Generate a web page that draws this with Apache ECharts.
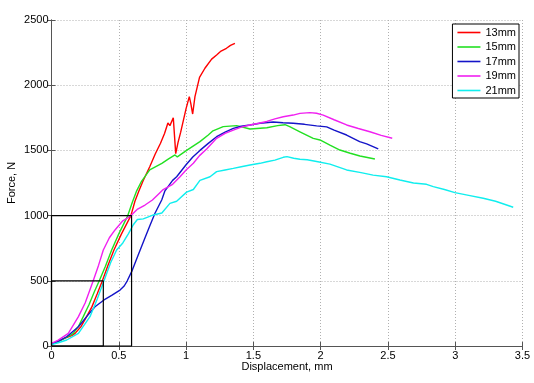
<!DOCTYPE html>
<html>
<head>
<meta charset="utf-8">
<script src="https://cdn.jsdelivr.net/npm/echarts@6/dist/echarts.min.js"></script>
<style>
html,body{margin:0;padding:0;background:#fff;}
#chart{width:534px;height:383px;}
</style>
</head>
<body>
<div id="chart"></div>
<script>
// Displacement (mm), Force (N) pairs
const seriesNames = ['13mm', '15mm', '17mm', '19mm', '21mm'];
const xTicks = [0, 0.5, 1, 1.5, 2, 2.5, 3, 3.5];
const yTicks = [0, 500, 1000, 1500, 2000, 2500];

const d13 = [[0,15],[0.05,35],[0.1,60],[0.15,80],[0.175,97],[0.22,150],[0.261,225],[0.3,300],[0.34,400],[0.378,500],[0.42,620],[0.464,736],[0.52,860],[0.59,1000],[0.62,1110],[0.65,1190],[0.68,1265],[0.73,1375],[0.77,1470],[0.81,1555],[0.84,1630],[0.865,1710],[0.88,1690],[0.905,1750],[0.923,1475],[0.94,1560],[0.96,1640],[1.0,1820],[1.024,1912],[1.035,1860],[1.049,1779],[1.066,1912],[1.1,2060],[1.14,2130],[1.19,2200],[1.227,2232],[1.26,2262],[1.30,2283],[1.33,2305],[1.363,2321]];

const d15 = [[0,15],[0.05,35],[0.1,60],[0.162,97],[0.2,150],[0.236,225],[0.28,320],[0.32,420],[0.355,500],[0.4,610],[0.447,736],[0.5,860],[0.567,1000],[0.6,1100],[0.633,1190],[0.67,1265],[0.73,1350],[0.82,1401],[0.87,1435],[0.918,1465],[0.935,1450],[1.004,1500],[1.103,1567],[1.165,1618],[1.2,1650],[1.276,1682],[1.376,1690],[1.475,1664],[1.6,1674],[1.68,1690],[1.735,1697],[1.77,1682],[1.846,1643],[1.945,1592],[1.995,1580],[2.069,1541],[2.143,1503],[2.22,1478],[2.292,1457],[2.403,1434]];

const d17 = [[0,15],[0.05,35],[0.113,71],[0.2,148],[0.261,225],[0.323,301],[0.4,360],[0.45,390],[0.509,429],[0.54,460],[0.563,500],[0.6,580],[0.645,700],[0.695,830],[0.73,920],[0.769,1018],[0.819,1120],[0.843,1190],[0.9,1270],[0.93,1298],[1.0,1390],[1.05,1450],[1.103,1500],[1.165,1554],[1.227,1605],[1.29,1640],[1.351,1669],[1.41,1685],[1.475,1695],[1.549,1708],[1.648,1718],[1.72,1712],[1.796,1708],[1.88,1700],[1.97,1688],[2.045,1680],[2.1,1655],[2.193,1618],[2.29,1567],[2.342,1550],[2.428,1511]];

const d19 = [[0,20],[0.05,45],[0.125,97],[0.2,225],[0.25,330],[0.31,500],[0.35,620],[0.385,736],[0.43,830],[0.472,890],[0.53,960],[0.585,995],[0.64,1050],[0.695,1081],[0.75,1120],[0.8,1170],[0.83,1200],[0.9,1240],[0.955,1298],[1.0,1350],[1.054,1401],[1.1,1460],[1.153,1510],[1.227,1593],[1.29,1630],[1.351,1656],[1.41,1678],[1.475,1695],[1.54,1708],[1.6,1722],[1.66,1742],[1.722,1758],[1.796,1771],[1.846,1784],[1.92,1790],[1.97,1785],[2.019,1771],[2.1,1735],[2.193,1695],[2.28,1668],[2.366,1643],[2.45,1615],[2.532,1593]];

const d21 = [[0,10],[0.05,25],[0.113,46],[0.2,97],[0.286,225],[0.34,360],[0.39,500],[0.44,640],[0.484,736],[0.53,790],[0.571,860],[0.608,930],[0.638,970],[0.682,975],[0.72,990],[0.757,1005],[0.82,1020],[0.88,1094],[0.93,1110],[1.004,1180],[1.054,1200],[1.103,1270],[1.178,1298],[1.227,1337],[1.29,1350],[1.351,1362],[1.41,1375],[1.475,1388],[1.549,1401],[1.6,1413],[1.66,1425],[1.722,1447],[1.75,1452],[1.8,1440],[1.846,1432],[1.9,1428],[1.97,1415],[2.069,1395],[2.193,1350],[2.3,1330],[2.39,1310],[2.49,1298],[2.589,1273],[2.69,1250],[2.787,1240],[2.837,1222],[2.92,1200],[2.998,1176],[3.1,1155],[3.208,1133],[3.3,1110],[3.431,1064]];

// Zoom boxes drawn on the plot
const boxLarge = [[0,0],[0,1000],[0.595,1000],[0.595,0],[0,0]];
const boxSmall = [[0,0],[0,500],[0.385,500],[0.385,0],[0,0]];

const colors = ['#ff0000', '#22e022', '#1414c8', '#f020f0', '#10eeee'];
const dataSets = [d13, d15, d17, d19, d21];

const FONT = '"Liberation Sans", Arial, Helvetica, sans-serif';
const axisColor = '#555';
const gridLine = {show: true, lineStyle: {color: '#b0b0b0', type: [1, 2], width: 1}};
const plain = (v) => String(v);

const chart = echarts.init(document.getElementById('chart'), null, {renderer: 'canvas'});

const series = dataSets.map((d, i) => ({
  name: seriesNames[i],
  type: 'line',
  data: d,
  symbol: 'none',
  smooth: false,
  color: colors[i],
  itemStyle: {color: colors[i]},
  lineStyle: {width: 1.4, color: colors[i]},
  xAxisIndex: 0,
  yAxisIndex: 0,
  animation: false
}));
[boxLarge, boxSmall].forEach((b) => {
  series.push({
    type: 'line', data: b, symbol: 'none', silent: true, clip: false,
    lineStyle: {width: 1.2, color: '#000'}, color: '#000', animation: false, z: 5
  });
});

const option = {
  animation: false,
  backgroundColor: '#fff',
  textStyle: {fontFamily: FONT},
  grid: {left: 51.5, right: 11.5, top: 20, bottom: 37, containLabel: false, outerBoundsMode: 'none'},
  legend: {
    data: seriesNames,
    orient: 'vertical',
    right: 15,
    top: 24,
    backgroundColor: '#fff',
    borderColor: '#000',
    borderWidth: 1,
    padding: [3, 3, 2, 5],
    icon: 'rect',
    itemWidth: 23,
    itemHeight: 1.6,
    itemGap: 3.5,
    textStyle: {fontSize: 11, color: '#000', fontFamily: FONT, lineHeight: 11}
  },
  xAxis: [{
    type: 'value', min: xTicks[0], max: xTicks[xTicks.length - 1], interval: 0.5,
    position: 'bottom',
    name: 'Displacement, mm', nameLocation: 'middle', nameGap: 15, nameMoveOverlap: false,
    nameTextStyle: {fontSize: 11, color: '#000', fontFamily: FONT},
    axisLine: {show: true, lineStyle: {color: axisColor, width: 1}},
    axisTick: {show: true, inside: true, length: 4, lineStyle: {color: axisColor}},
    axisLabel: {fontSize: 11, color: '#000', margin: 4, fontFamily: FONT, formatter: plain},
    splitLine: gridLine
  }, {
    type: 'value', min: xTicks[0], max: xTicks[xTicks.length - 1], interval: 0.5,
    position: 'top',
    axisLine: {show: true, lineStyle: {color: axisColor, width: 1}},
    axisTick: {show: true, inside: true, length: 4, lineStyle: {color: axisColor}},
    axisLabel: {show: false},
    splitLine: {show: false}
  }],
  yAxis: [{
    type: 'value', min: yTicks[0], max: yTicks[yTicks.length - 1], interval: 500,
    position: 'left',
    name: 'Force, N', nameLocation: 'middle', nameGap: 34, nameRotate: 90, nameMoveOverlap: false,
    nameTextStyle: {fontSize: 11, color: '#000', fontFamily: FONT},
    axisLine: {show: true, lineStyle: {color: axisColor, width: 1}},
    axisTick: {show: true, inside: true, length: 4, lineStyle: {color: axisColor}},
    axisLabel: {fontSize: 11, color: '#000', margin: 3, fontFamily: FONT, formatter: plain},
    splitLine: gridLine
  }, {
    type: 'value', min: yTicks[0], max: yTicks[yTicks.length - 1], interval: 500,
    position: 'right',
    axisLine: {show: true, lineStyle: {color: axisColor, width: 1}},
    axisTick: {show: true, inside: true, length: 4, lineStyle: {color: axisColor}},
    axisLabel: {show: false},
    splitLine: {show: false}
  }],
  series: series
};

chart.setOption(option);
</script>
</body>
</html>
